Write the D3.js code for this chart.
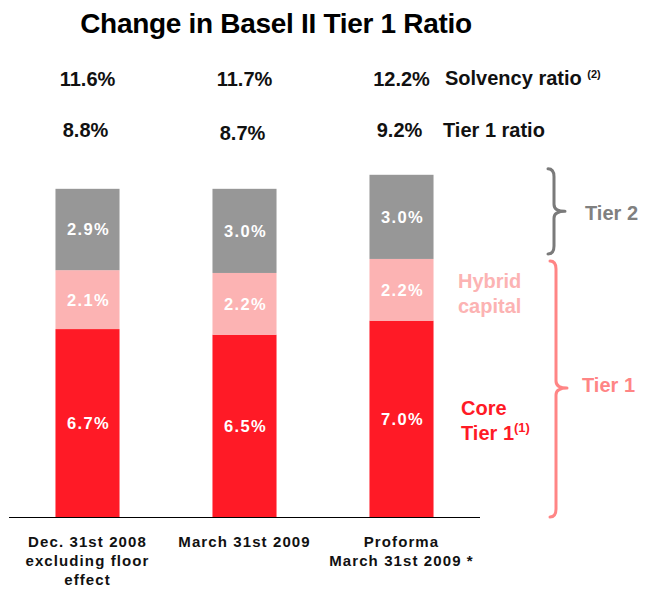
<!DOCTYPE html>
<html>
<head>
<meta charset="utf-8">
<script src="https://cdn.jsdelivr.net/npm/d3@7"></script>
<style>
  html, body { margin: 0; padding: 0; background: #fff; }
  svg { display: block; font-family: "Liberation Sans", Arial, Helvetica, sans-serif; font-weight: bold; }
</style>
</head>
<body>
<svg id="chart" width="655" height="589"></svg>
<script>
// Basel II capital ratios, in % of risk-weighted assets
const categories = [
  ["Dec. 31st 2008", "excluding floor", "effect"],
  ["March 31st 2009"],
  ["Proforma", "March 31st 2009 *"]
];
const coreTier1 = [6.7, 6.5, 7.0];
const hybridCapital = [2.1, 2.2, 2.2];
const tier2 = [2.9, 3.0, 3.0];
const solvencyRatio = [11.6, 11.7, 12.2];
const tier1Ratio = [8.8, 8.7, 9.2];

const colors = { core: "#ff1a26", hybrid: "#fcb3b3", tier2: "#979797" };

const svg = d3.select("#chart");
const fmt = v => d3.format(".1f")(v) + "%";

const idx = d3.range(categories.length);
const x = d3.scaleBand().domain(idx).range([9, 480]).paddingInner(0.592).paddingOuter(0.296);
const y = d3.scaleLinear().domain([0, 12]).range([517, 180.4]);

// stacked segments
const rows = idx.map(i => ({ i, core: coreTier1[i], hybrid: hybridCapital[i], tier2: tier2[i] }));
const keys = ["core", "hybrid", "tier2"];
const series = d3.stack().keys(keys)(rows);

const layer = svg.append("g").selectAll("g").data(series).join("g")
  .attr("fill", d => colors[d.key]);
layer.selectAll("rect").data(d => d).join("rect")
  .attr("x", d => x(d.data.i))
  .attr("width", x.bandwidth())
  .attr("y", d => y(d[1]))
  .attr("height", d => y(d[0]) - y(d[1]));

// values inside the segments
svg.append("g").selectAll("g").data(series).join("g")
  .selectAll("text").data(d => d.map(s => ({ s, key: d.key }))).join("text")
  .attr("x", d => x(d.s.data.i) + x.bandwidth() / 2 + 1)
  .attr("y", d => (y(d.s[0]) + y(d.s[1])) / 2)
  .attr("dy", "0.36em")
  .attr("text-anchor", "middle")
  .attr("fill", "#fff")
  .attr("font-size", 16.5)
  .attr("letter-spacing", "1.4px")
  .text(d => fmt(d.s[1] - d.s[0]));

// baseline
svg.append("line")
  .attr("x1", x.range()[0]).attr("x2", x.range()[1])
  .attr("y1", y(0) + 0.5).attr("y2", y(0) + 0.5)
  .attr("stroke", "#000").attr("stroke-width", 1);

// category labels
const cat = svg.append("g").selectAll("text").data(idx).join("text")
  .attr("x", i => x(i) + x.bandwidth() / 2)
  .attr("y", 547)
  .attr("text-anchor", "middle")
  .attr("font-size", 15)
  .attr("letter-spacing", "1.1px")
  .attr("fill", "#111");
cat.selectAll("tspan").data(i => categories[i]).join("tspan")
  .attr("x", function () { return d3.select(this.parentNode).attr("x"); })
  .attr("dy", (d, k) => k === 0 ? 0 : 19)
  .text(d => d);

// title
svg.append("text")
  .attr("x", 276).attr("y", 33)
  .attr("text-anchor", "middle")
  .attr("font-size", 28)
  .attr("letter-spacing", "-0.3px")
  .attr("fill", "#000")
  .text("Change in Basel II Tier 1 Ratio");

// ratio rows above the bars
const rowG = svg.append("g").attr("font-size", 20).attr("fill", "#111");
rowG.selectAll("text.solv").data(solvencyRatio).join("text")
  .attr("class", "solv")
  .attr("x", (d, i) => x(i) + x.bandwidth() / 2)
  .attr("y", 86)
  .attr("text-anchor", "middle")
  .text(fmt);
rowG.selectAll("text.t1").data(tier1Ratio).join("text")
  .attr("class", "t1")
  .attr("x", (d, i) => x(i) + x.bandwidth() / 2 - 2)
  .attr("y", (d, i) => i === 1 ? 140 : 137)
  .attr("text-anchor", "middle")
  .text(fmt);

const solvLabel = rowG.append("text").attr("x", 445).attr("y", 85);
solvLabel.append("tspan").text("Solvency ratio ");
solvLabel.append("tspan").attr("font-size", 11).attr("dy", -7).text("(2)");
rowG.append("text").attr("x", 443).attr("y", 137).text("Tier 1 ratio");

// right-hand curly braces
function brace(xl, top, bot, mid) {
  const p = d3.path();
  p.moveTo(xl - 6, top);
  p.quadraticCurveTo(xl, top, xl, top + 8);
  p.lineTo(xl, mid - 7);
  p.quadraticCurveTo(xl, mid, xl + 11, mid);
  p.quadraticCurveTo(xl, mid, xl, mid + 7);
  p.lineTo(xl, bot - 8);
  p.quadraticCurveTo(xl, bot, xl - 6, bot);
  return p.toString();
}
const last = idx.length - 1;
const t2Top = y(solvencyRatio[last]) - 6, t2Bot = y(tier1Ratio[last]) - 5;
const t1Top = y(tier1Ratio[last]) + 2, t1Bot = y(0);
svg.append("path")
  .attr("d", brace(554, t2Top, t2Bot, (t2Top + t2Bot) / 2))
  .attr("fill", "none").attr("stroke", "#7a7a7a").attr("stroke-width", 3)
  .attr("stroke-linecap", "round").attr("stroke-linejoin", "round");
svg.append("path")
  .attr("d", brace(556, t1Top, t1Bot, 388))
  .attr("fill", "none").attr("stroke", "#ff8585").attr("stroke-width", 3)
  .attr("stroke-linecap", "round").attr("stroke-linejoin", "round");

// component labels
const lab = svg.append("g").attr("font-size", 20);
lab.append("text").attr("x", 585).attr("y", 220).attr("fill", "#808080").text("Tier 2");
lab.append("text").attr("x", 582).attr("y", 392).attr("fill", "#ff8585").text("Tier 1");
const hyb = lab.append("text").attr("fill", colors.hybrid);
hyb.append("tspan").attr("x", 458).attr("y", 288).text("Hybrid");
hyb.append("tspan").attr("x", 458).attr("y", 313).text("capital");
const core = lab.append("text").attr("fill", colors.core);
core.append("tspan").attr("x", 461).attr("y", 415).text("Core");
core.append("tspan").attr("x", 461).attr("y", 440).text("Tier 1");
core.append("tspan").attr("font-size", 13).attr("dy", -8).text("(1)");
</script>
</body>
</html>
